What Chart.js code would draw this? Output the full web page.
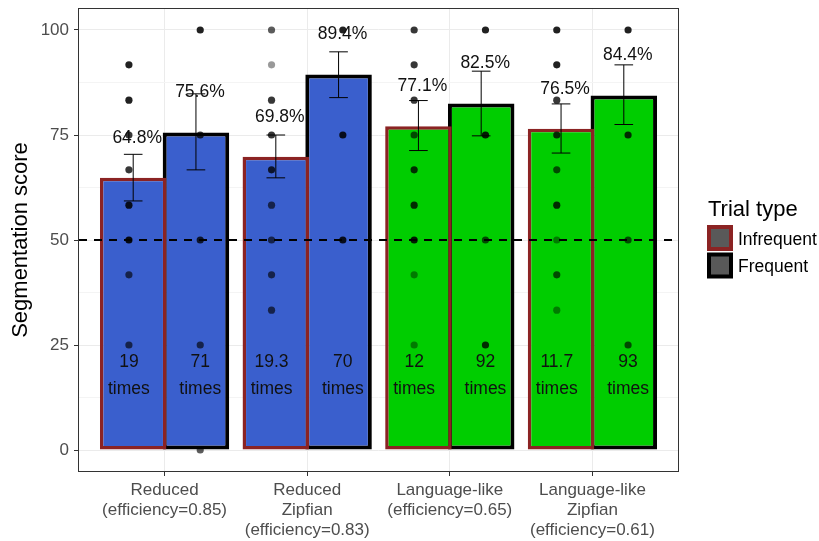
<!DOCTYPE html>
<html>
<head>
<meta charset="utf-8">
<title>Segmentation score</title>
<script src="https://cdn.jsdelivr.net/npm/chart.js@4.4.1/dist/chart.umd.min.js"></script>
<style>
  html, body { margin: 0; padding: 0; background: #fff; }
  #chart { display: block; }
</style>
</head>
<body>
<canvas id="chart" width="819" height="541"></canvas>
<script>
// x axis conditions, one entry per label line
const conditions = [
  ['Reduced', '(efficiency=0.85)'],
  ['Reduced', 'Zipfian', '(efficiency=0.83)'],
  ['Language-like', '(efficiency=0.65)'],
  ['Language-like', 'Zipfian', '(efficiency=0.61)']
]
const trialTypes = ['Infrequent', 'Frequent']

// mean segmentation score (%)
const infrequentMean = [64.8, 69.8, 77.1, 76.5]
const frequentMean = [75.6, 89.4, 82.5, 84.4]

// mean -/+ standard error
const infrequentLow = [59.3, 64.8, 71.3, 70.7]
const infrequentHigh = [70.4, 75.0, 83.2, 82.4]
const frequentLow = [66.7, 83.9, 74.8, 77.5]
const frequentHigh = [84.8, 94.8, 90.2, 91.7]

// how many times the words were heard
const infrequentTimes = ['19', '19.3', '12', '11.7']
const frequentTimes = ['71', '70', '92', '93']

// individual scores: [score, participants with that score]
const infrequentScores = [
  [[91.7, 4], [83.3, 4], [75, 3], [66.7, 3], [58.3, 4], [50, 5], [41.7, 2], [25, 2]],
  [[100, 2], [91.7, 1], [83.3, 3], [75, 3], [66.7, 3], [58.3, 2], [50, 2], [41.7, 2], [33.3, 2]],
  [[100, 3], [91.7, 3], [83.3, 3], [75, 2], [66.7, 3], [58.3, 3], [50, 4], [41.7, 1], [25, 1]],
  [[100, 4], [91.7, 4], [83.3, 3], [75, 3], [66.7, 2], [58.3, 3], [50, 1], [41.7, 2], [33.3, 1]]
]
const frequentScores = [
  [[100, 4], [75, 3], [50, 3], [25, 2], [0, 2]],
  [[100, 4], [75, 4], [50, 4]],
  [[100, 4], [75, 4], [50, 2], [25, 3]],
  [[100, 4], [75, 3], [50, 2], [25, 2]]
]

const chanceLevel = 50
const yTicks = [0, 25, 50, 75, 100]

const fillColors = ['#3a5fcd', '#3a5fcd', '#00cd00', '#00cd00']
const FONT = "'Liberation Sans', Arial, sans-serif"
const pointAlpha = 0.4

// points for one trial type, shifted off the category centre
function scorePoints(groups, shift) {
  const pts = []
  groups.forEach((g, i) => {
    g.forEach(([score, n]) => pts.push({ x: i + 1 + shift, y: score, n }))
  })
  return pts
}

// error bars and labels, drawn per bar element
const extras = [
  { low: infrequentLow, high: infrequentHigh, mean: infrequentMean, times: infrequentTimes, shift: -0.25 },
  { low: frequentLow, high: frequentHigh, mean: frequentMean, times: frequentTimes, shift: 0.25 }
]

const overlays = {
  id: 'overlays',
  beforeDatasetDraw(chart, args) {
    if (args.meta.type !== 'scatter') return
    // dashed chance line under the individual points
    const { ctx, chartArea } = chart
    const y = chart.scales.y.getPixelForValue(chanceLevel)
    ctx.save()
    ctx.strokeStyle = '#000'
    ctx.lineWidth = 2
    ctx.setLineDash([8, 7])
    ctx.beginPath()
    ctx.moveTo(chartArea.left, y)
    ctx.lineTo(chartArea.right, y)
    ctx.stroke()
    ctx.restore()
  },
  afterDatasetsDraw(chart) {
    const { ctx, chartArea } = chart
    const xs = chart.scales.x
    const ys = chart.scales.y
    ctx.save()
    extras.forEach((e, d) => {
      const bars = chart.getDatasetMeta(d).data
      bars.forEach((bar, i) => {
        // error bar
        const top = ys.getPixelForValue(e.high[i])
        const bot = ys.getPixelForValue(e.low[i])
        const cap = bar.width * 0.14
        ctx.strokeStyle = '#000'
        ctx.lineWidth = 1
        ctx.setLineDash([])
        ctx.beginPath()
        ctx.moveTo(bar.x, top); ctx.lineTo(bar.x, bot)
        ctx.moveTo(bar.x - cap, top); ctx.lineTo(bar.x + cap, top)
        ctx.moveTo(bar.x - cap, bot); ctx.lineTo(bar.x + cap, bot)
        ctx.stroke()

        // percentage above the bar
        ctx.fillStyle = '#111'
        ctx.font = '17.5px ' + FONT
        ctx.textAlign = 'center'
        ctx.textBaseline = 'middle'
        ctx.fillText(e.mean[i].toFixed(1) + '%', bar.x + 4, ys.getPixelForValue(e.mean[i] + 9.5))

        // exposure count near the bottom
        const tx = xs.getPixelForValue(i + 1 + e.shift)
        const ty = ys.getPixelForValue(17.7)
        ctx.fillText(e.times[i], tx, ty - 13.5)
        ctx.fillText('times', tx, ty + 13.5)
      })
    })

    // panel border
    ctx.strokeStyle = '#333'
    ctx.lineWidth = 1
    ctx.strokeRect(Math.round(chartArea.left) - 0.5, Math.round(chartArea.top) - 0.5,
      Math.round(chartArea.right - chartArea.left) + 1, Math.round(chartArea.bottom - chartArea.top) + 1)

    // legend
    const lx = chartArea.right + 31
    ctx.fillStyle = '#000'
    ctx.textAlign = 'left'
    ctx.textBaseline = 'middle'
    ctx.font = '22px ' + FONT
    ctx.fillText('Trial type', lx - 1, 210)
    chart.data.datasets.slice(0, 2).forEach((ds, k) => {
      const cy = 238 + k * 27.5
      ctx.fillStyle = '#595959'
      ctx.fillRect(lx, cy - 11, 22, 22)
      ctx.strokeStyle = ds.borderColor
      ctx.lineWidth = 4
      ctx.strokeRect(lx, cy - 11, 22, 22)
      ctx.fillStyle = '#000'
      ctx.font = '17.5px ' + FONT
      ctx.fillText(ds.label, lx + 29, cy + 2)
    })
    ctx.restore()
  }
}

new Chart(document.getElementById('chart'), {
  type: 'bar',
  data: {
    datasets: [
      {
        label: trialTypes[0],
        order: 1,
        data: infrequentMean.map((v, i) => ({ x: i + 1, y: v })),
        backgroundColor: fillColors,
        borderColor: '#8b2323',
        borderWidth: 3.5,
        borderSkipped: false,
        barPercentage: 1.06,
        categoryPercentage: 0.88
      },
      {
        label: trialTypes[1],
        order: 2,
        data: frequentMean.map((v, i) => ({ x: i + 1, y: v })),
        backgroundColor: fillColors,
        borderColor: '#000000',
        borderWidth: 4,
        borderSkipped: false,
        barPercentage: 1.06,
        categoryPercentage: 0.88
      },
      {
        type: 'scatter',
        label: 'scores',
        order: 0,
        data: scorePoints(infrequentScores, -0.25).concat(scorePoints(frequentScores, 0.25)),
        pointRadius: 3.6,
        pointBorderWidth: 0,
        pointBackgroundColor: c => 'rgba(0,0,0,' + (1 - Math.pow(1 - pointAlpha, c.raw.n)).toFixed(3) + ')'
      }
    ]
  },
  options: {
    responsive: false,
    animation: false,
    events: [],
    layout: { padding: { top: 9, right: 141, bottom: 0, left: 0 } },
    plugins: {
      legend: { display: false },
      tooltip: { enabled: false }
    },
    scales: {
      x: {
        type: 'linear',
        min: 0.4,
        max: 4.6,
        offset: false,
        afterFit: s => { s.height = 70 },
        grid: { offset: false, color: '#ebebeb', lineWidth: 1, tickColor: '#333', tickLength: 5 },
        border: { display: false },
        ticks: {
          stepSize: 1,
          includeBounds: false,
          autoSkip: false,
          maxRotation: 0,
          padding: 5,
          color: '#4d4d4d',
          font: { family: FONT, size: 17, lineHeight: 1.15 },
          callback: v => conditions[Math.round(v) - 1]
        }
      },
      y: {
        min: -5,
        max: 105,
        afterFit: s => { s.width = 79; s.paddingTop = 0; s.paddingBottom = 0 },
        grid: {
          color: c => yTicks.includes(c.tick.value) ? '#ebebeb' : '#f4f4f4',
          lineWidth: 1,
          tickColor: c => yTicks.includes(c.tick.value) ? '#333' : 'rgba(0,0,0,0)',
          tickLength: 5
        },
        border: { display: false },
        ticks: {
          stepSize: 12.5,
          includeBounds: false,
          padding: 5,
          color: '#4d4d4d',
          font: { family: FONT, size: 17, lineHeight: 1 },
          callback: v => yTicks.includes(v) ? String(v) : ''
        },
        title: {
          display: true,
          text: 'Segmentation score',
          color: '#000',
          font: { family: FONT, size: 22 },
          padding: { top: 8, bottom: 0 }
        }
      }
    }
  },
  plugins: [overlays]
})
</script>
</body>
</html>
